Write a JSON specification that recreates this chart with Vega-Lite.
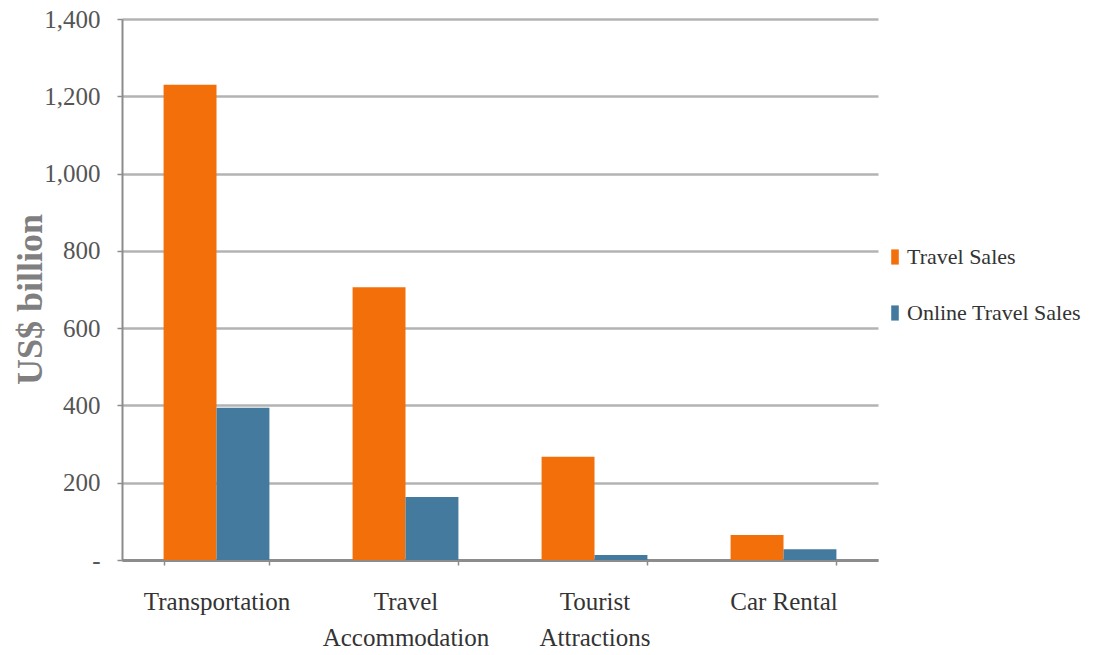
{
  "$schema": "https://vega.github.io/schema/vega-lite/v6.json",
  "width": 756,
  "height": 541,
  "autosize": {"type": "none"},
  "padding": {"left": 122, "top": 19, "right": 223, "bottom": 95},
  "background": "white",
  "data": {
    "values": [
      {"category": "Transportation", "series": "Travel Sales", "value": 1230},
      {"category": "Transportation", "series": "Online Travel Sales", "value": 394},
      {"category": "Travel Accommodation", "series": "Travel Sales", "value": 706},
      {"category": "Travel Accommodation", "series": "Online Travel Sales", "value": 163},
      {"category": "Tourist Attractions", "series": "Travel Sales", "value": 267},
      {"category": "Tourist Attractions", "series": "Online Travel Sales", "value": 13},
      {"category": "Car Rental", "series": "Travel Sales", "value": 65},
      {"category": "Car Rental", "series": "Online Travel Sales", "value": 28}
    ]
  },
  "mark": {"type": "bar"},
  "encoding": {
    "x": {
      "field": "category",
      "type": "nominal",
      "sort": ["Transportation", "Travel Accommodation", "Tourist Attractions", "Car Rental"],
      "scale": {"paddingInner": 0.44, "paddingOuter": 0.22},
      "axis": {
        "title": null,
        "labelAngle": 0,
        "labelFont": "Liberation Serif",
        "labelFontSize": 25,
        "labelColor": "#333333",
        "labelPadding": 24,
        "labelLineHeight": 36,
        "labelBaseline": "top",
        "labelExpr": "datum.value == 'Travel Accommodation' ? ['Travel', 'Accommodation'] : datum.value == 'Tourist Attractions' ? ['Tourist', 'Attractions'] : datum.value",
        "domainColor": "#8c8c8c",
        "domainWidth": 3,
        "tickBand": "extent",
        "tickColor": "#8c8c8c",
        "tickSize": 5,
        "tickWidth": 1.5
      }
    },
    "xOffset": {
      "field": "series",
      "type": "nominal",
      "sort": ["Travel Sales", "Online Travel Sales"],
      "scale": {"paddingInner": 0, "paddingOuter": 0}
    },
    "y": {
      "field": "value",
      "type": "quantitative",
      "scale": {"domain": [0, 1400], "nice": false},
      "axis": {
        "title": "US$ billion",
        "titleFont": "Liberation Serif",
        "titleFontSize": 36,
        "titleFontWeight": "bold",
        "titleColor": "#7f7f7f",
        "titleAngle": -90,
        "titleX": -92,
        "titleY": 280,
        "titleAlign": "center",
        "titleBaseline": "middle",
        "values": [0, 200, 400, 600, 800, 1000, 1200, 1400],
        "labelExpr": "datum.value == 0 ? '-' : format(datum.value, ',')",
        "labelFont": "Liberation Serif",
        "labelFontSize": 25,
        "labelColor": "#555555",
        "labelPadding": 17,
        "tickSize": 5,
        "tickColor": "#8c8c8c",
        "tickWidth": 1.5,
        "domainColor": "#8c8c8c",
        "domainWidth": 2,
        "grid": true,
        "gridColor": "#b3b3b3",
        "gridWidth": 2.5
      }
    },
    "color": {
      "field": "series",
      "type": "nominal",
      "sort": ["Travel Sales", "Online Travel Sales"],
      "scale": {"domain": ["Travel Sales", "Online Travel Sales"], "range": ["#f26f0a", "#457a9f"]},
      "legend": {
        "title": null,
        "orient": "none",
        "legendX": 762,
        "legendY": 227,
        "symbolType": "M-0.5,-1H0.5V1H-0.5Z",
        "symbolSize": 230,
        "symbolStrokeWidth": 0,
        "labelFont": "Liberation Serif",
        "labelFontSize": 22,
        "labelColor": "#333333",
        "labelOffset": 1,
        "labelLimit": 400,
        "rowPadding": 34
      }
    }
  },
  "config": {
    "view": {"stroke": null}
  }
}
